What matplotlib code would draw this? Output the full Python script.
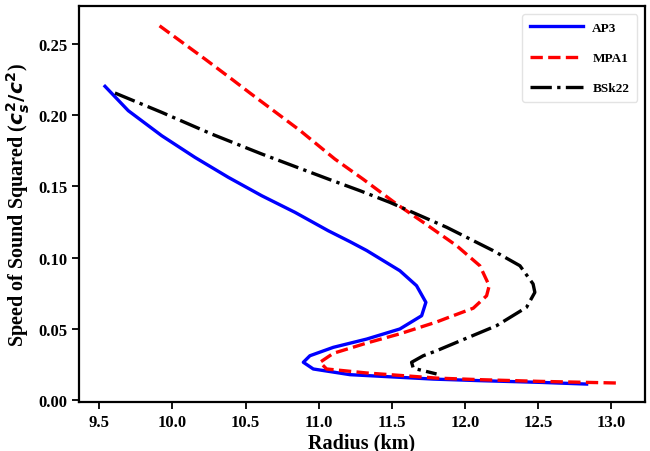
import numpy as np
import matplotlib
matplotlib.use("Agg")
import matplotlib.pyplot as plt

plt.rcParams['font.family'] = ['Liberation Serif', 'DejaVu Serif']
plt.rcParams['font.weight'] = 'bold'
plt.rcParams['mathtext.fontset'] = 'dejavusans'

# AP3
r_ap3 = [9.539, 9.698, 9.927, 10.154, 10.382, 10.610, 10.838, 11.065, 11.214, 11.328,
         11.555, 11.669, 11.733, 11.704, 11.555, 11.328, 11.100, 10.940, 10.895,
         10.963, 11.214, 11.783, 12.102, 12.512, 12.832]
c_ap3 = [0.2203, 0.2032, 0.1856, 0.1704, 0.1564, 0.1435, 0.1318, 0.1189, 0.1112, 0.1050,
         0.0908, 0.0803, 0.0686, 0.0592, 0.0499, 0.0428, 0.0370, 0.0311, 0.0265,
         0.0218, 0.0178, 0.0147, 0.0136, 0.0124, 0.0112]

# MPA1
r_mpa1 = [9.912, 10.222, 10.405, 10.530, 10.872, 11.111, 11.305, 11.533, 11.715,
          11.943, 12.102, 12.166, 12.148, 12.057, 11.875, 11.806, 11.555, 11.328,
          11.100, 11.009, 11.054, 11.328, 11.806, 12.102, 12.512, 13.06]
c_mpa1 = [0.2628, 0.2395, 0.2254, 0.2156, 0.1893, 0.1692, 0.155, 0.1376, 0.1248,
          0.1084, 0.0943, 0.0803, 0.0732, 0.0645, 0.0575, 0.0548, 0.0465, 0.0400,
          0.0328, 0.0265, 0.0218, 0.0190, 0.0154, 0.0143, 0.0131, 0.0119]

# BSk22
r_bsk = [9.607, 9.927, 10.268, 10.610, 11.065, 11.282, 11.487, 11.875, 12.193, 12.376,
         12.466, 12.478, 12.421, 12.216, 11.943, 11.806, 11.715, 11.635, 11.647, 11.806]
c_bsk = [0.2156, 0.202, 0.1868, 0.1728, 0.1552, 0.147, 0.1388, 0.1213, 0.1049, 0.0943,
         0.0815, 0.0756, 0.0651, 0.0522, 0.0405, 0.0346, 0.0311, 0.0265, 0.0223, 0.0183]

fig = plt.figure(figsize=(6.5, 4.52), dpi=100)
ax = fig.add_axes([0.1215, 0.109, 0.871, 0.8755])

ax.plot(r_ap3, c_ap3, color='blue', lw=2.4, label='AP3')
ax.plot(r_mpa1, c_mpa1, color='red', lw=2.4, ls='--', label='MPA1')
ax.plot(r_bsk, c_bsk, color='black', lw=2.4, ls='-.', label='BSk22')

ax.set_xlim(9.361, 13.232)
ax.set_ylim(-0.0012, 0.2767)
ax.set_xticks([9.5, 10.0, 10.5, 11.0, 11.5, 12.0, 12.5, 13.0])
ax.set_yticks([0.0, 0.05, 0.10, 0.15, 0.20, 0.25])
ax.set_xticklabels(['9.5', '10.0', '10.5', '11.0', '11.5', '12.0', '12.5', '13.0'])
ax.set_yticklabels(['0.00', '0.05', '0.10', '0.15', '0.20', '0.25'])
ax.tick_params(labelsize=12, width=1.3, length=5)
for s in ax.spines.values():
    s.set_linewidth(1.6)

ax.set_xlabel('Radius (km)', fontsize=14.5, fontweight='bold', labelpad=2)
ax.set_ylabel(r'Speed of Sound Squared ($\boldsymbol{c_s^2/c^2}$)', fontsize=14.5,
              fontweight='bold')

leg = ax.legend(loc='upper right', fontsize=9.5, handlelength=4.0, labelspacing=1.35,
                borderpad=0.6, handletextpad=0.7, borderaxespad=0.6)
leg.get_frame().set_edgecolor('#dddddd')

fig.savefig('out.png', dpi=100)
